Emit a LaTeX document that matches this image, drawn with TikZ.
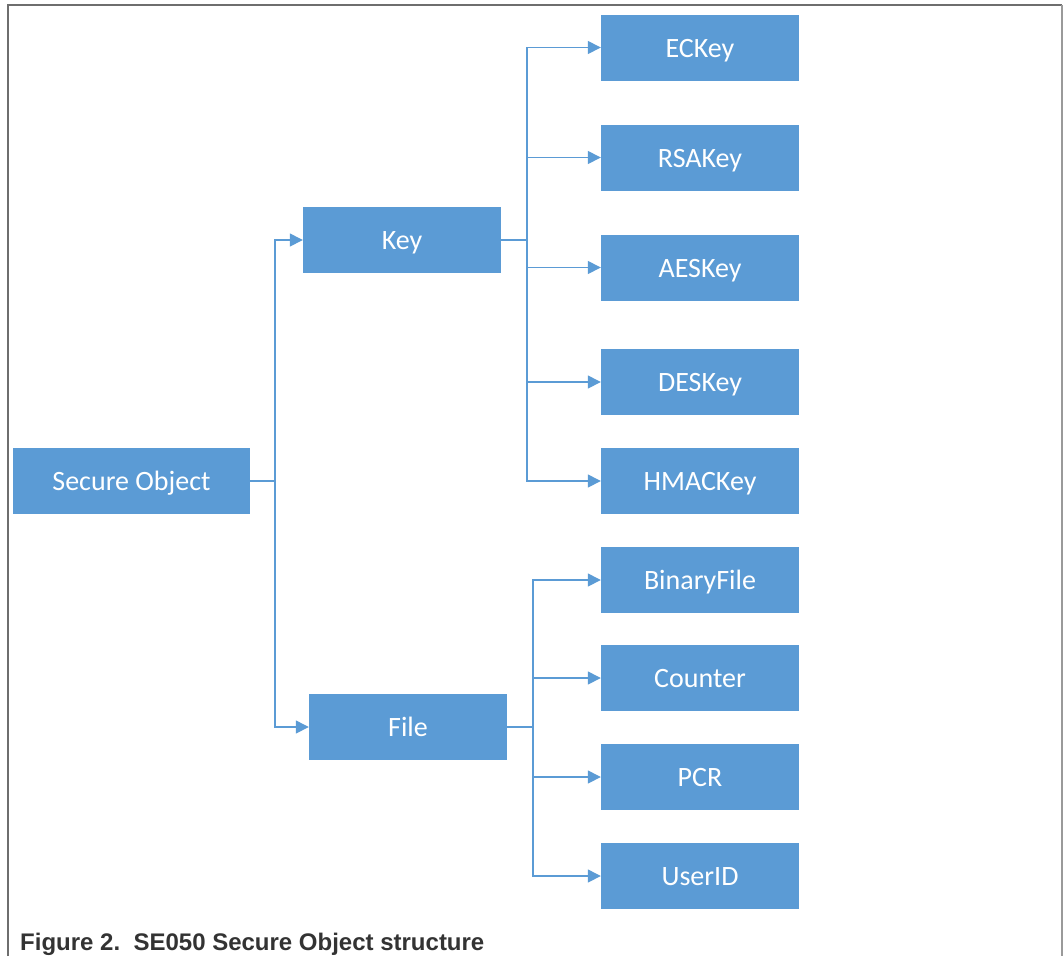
\documentclass[tikz,border=0pt]{standalone}
\usepackage{fontspec}
\setmainfont{Carlito}
\newfontfamily\capfont{Liberation Sans}
\usetikzlibrary{arrows.meta}
\definecolor{boxblue}{HTML}{5B9BD5}
\definecolor{frameg}{HTML}{6E6E6E}
\tikzset{
  obox/.style={fill=boxblue, draw=none, minimum width=198pt, minimum height=66pt, inner sep=0pt, text=white, text height=20pt, text depth=1pt, font=\fontsize{28}{30}\selectfont},
  conn/.style={draw=boxblue, line width=1.4pt},
  arr/.style={conn, -{Triangle[length=13pt,width=13pt]}}
}
\begin{document}
\begin{tikzpicture}[x=1pt,y=-1pt]
\useasboundingbox (0,0) rectangle (1064,956);
% frame
\draw[frameg, line width=2pt] (7.5,956) -- (7.5,5) -- (1062,5);
\draw[frameg!70, line width=2pt] (1062,5) -- (1062,956);
% nodes
\node[obox, minimum width=237pt] (so) at (131.5,481) {Secure Object};
\node[obox] (key) at (402,240) {Key};
\node[obox] (file) at (408,727) {File};
\node[obox] (ec) at (700,47.5) {ECKey};
\node[obox] (rsa) at (700,157.5) {RSAKey};
\node[obox] (aes) at (700,267.5) {AESKey};
\node[obox] (des) at (700,382) {DESKey};
\node[obox] (hmac) at (700,481) {HMACKey};
\node[obox] (bin) at (700,580) {BinaryFile};
\node[obox] (cnt) at (700,678) {Counter};
\node[obox] (pcr) at (700,777) {PCR};
\node[obox] (uid) at (700,876) {UserID};
% junction coordinates
\coordinate (j0) at (275,481);
\coordinate (j1) at (527,240);
\coordinate (j2) at (533,727);
% connectors
\draw[conn] (so.east) -- (j0);
\draw[arr] (j0) |- (key.west);
\draw[arr] (j0) |- (file.west);
\draw[conn] (key.east) -- (j1);
\foreach \n in {ec,rsa,aes,des,hmac} \draw[arr] (j1) |- (\n.west);
\draw[conn] (file.east) -- (j2);
\foreach \n in {bin,cnt,pcr,uid} \draw[arr] (j2) |- (\n.west);
% caption
\node[anchor=base west, inner sep=0pt, text=black!80, font=\capfont\bfseries\fontsize{24}{26}\selectfont] (cap) at (20,950) {Figure 2.\ \ SE050 Secure Object structure};
\end{tikzpicture}
\end{document}
